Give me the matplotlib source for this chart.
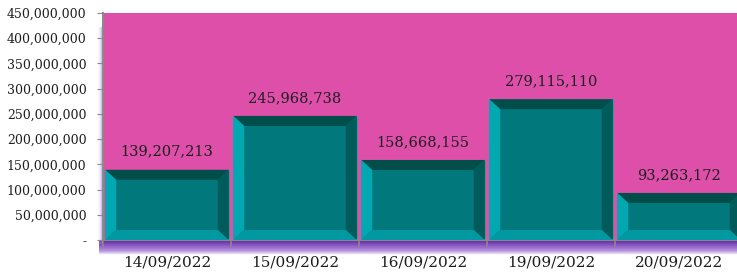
import numpy as np
import matplotlib
matplotlib.use("Agg")
import matplotlib.pyplot as plt
from matplotlib.patches import Polygon
from matplotlib.colors import LinearSegmentedColormap

# === Data ===
dates = ["14/09/2022", "15/09/2022", "16/09/2022", "19/09/2022", "20/09/2022"]
values = [139207213, 245968738, 158668155, 279115110, 93263172]
y_ticks = [0, 50e6, 100e6, 150e6, 200e6, 250e6, 300e6, 350e6, 400e6, 450e6]

# === Colours ===
bg_pink = "#dd4fa8"
bar_face = "#00787c"
bevel_light = "#00a9b2"
bevel_dark = "#004d4a"
spine_grey = "#8a8a8a"
shadow_purple = "#6426a8"

plt.rcParams['font.family'] = ['DejaVu Serif']

W, H = 737, 272
fig = plt.figure(figsize=(W / 100, H / 100), dpi=100)

ax_left, ax_bottom = 103 / W, (H - 240) / H
ax_width, ax_height = 640 / W, 227 / H

cmap = LinearSegmentedColormap.from_list("shadow", [(1, 1, 1, 0), (0.55, 0.35, 0.8, 0.6), shadow_purple])

# purple drop shadow under the plot area
shadow_ax = fig.add_axes([ax_left - 4 / W, ax_bottom - 15 / H, ax_width, 15 / H])
grad = np.linspace(0, 1, 60).reshape(-1, 1) ** 0.5
shadow_ax.imshow(grad, aspect="auto", cmap=cmap, extent=[0, 1, 0, 1], vmin=0, vmax=1,
                 origin="lower")
shadow_ax.axis("off")

# faint shadow on left side
lshadow_ax = fig.add_axes([ax_left - 6 / W, ax_bottom - 4 / H, 6 / W, ax_height - 10 / H])
grad2 = np.linspace(0, 0.5, 20).reshape(1, -1)
lshadow_ax.imshow(grad2, aspect="auto", cmap=cmap, extent=[0, 1, 0, 1], vmin=0, vmax=1)
lshadow_ax.axis("off")

ax = fig.add_axes([ax_left, ax_bottom, ax_width, ax_height])
ax.set_facecolor(bg_pink)

x = np.arange(len(dates))
bar_w = 0.965
bars = ax.bar(x, values, width=bar_w, color=bar_face, edgecolor="#5f8f90", linewidth=0.6, zorder=2)

ax.set_xlim(-0.5, len(dates) - 0.5)
ax.set_ylim(0, 450e6)
fig.canvas.draw()

# bevel size in data units (about 10 px)
px_x = ax.transData.transform((1, 0))[0] - ax.transData.transform((0, 0))[0]
px_y = ax.transData.transform((0, 1e8))[1] - ax.transData.transform((0, 0))[1]
bx = 11 / px_x
by = 10 * 1e8 / px_y

for xi, v in zip(x, values):
    l, r = xi - bar_w / 2, xi + bar_w / 2
    b, t = 0, v
    # top (dark)
    ax.add_patch(Polygon([(l, t), (r, t), (r - bx, t - by), (l + bx, t - by)],
                         closed=True, color=bevel_dark, lw=0, zorder=3))
    # right (dark)
    ax.add_patch(Polygon([(r, t), (r, b), (r - bx, b + by), (r - bx, t - by)],
                         closed=True, color="#005c5a", lw=0, zorder=3))
    # left (light)
    ax.add_patch(Polygon([(l, t), (l + bx, t - by), (l + bx, b + by), (l, b)],
                         closed=True, color=bevel_light, lw=0, zorder=3))
    # bottom (light)
    ax.add_patch(Polygon([(l, b), (l + bx, b + by), (r - bx, b + by), (r, b)],
                         closed=True, color="#0099a1", lw=0, zorder=3))
    ax.text(xi, v + 22e6, f"{v:,}", ha="center", va="bottom", fontsize=10.5, color="#1e1e1e")

# axes styling
for side in ["top", "right"]:
    ax.spines[side].set_visible(False)
for side in ["left", "bottom"]:
    ax.spines[side].set_color(spine_grey)
    ax.spines[side].set_linewidth(1.5)

ax.set_yticks(y_ticks)
ax.set_yticklabels(["-" if t == 0 else f"{int(t):,}" for t in y_ticks])
ax.tick_params(axis="y", length=4, color=spine_grey, labelsize=9, pad=8, labelcolor="#1e1e1e")

ax.set_xticks(x)
ax.set_xticklabels(dates)
ax.set_xticks(np.arange(len(dates)) - 0.5, minor=True)
ax.tick_params(axis="x", which="major", length=0, labelsize=11, pad=11, labelcolor="#1e1e1e")
ax.tick_params(axis="x", which="minor", length=5, color=spine_grey, width=1.2)

fig.savefig("out.png", dpi=100)
